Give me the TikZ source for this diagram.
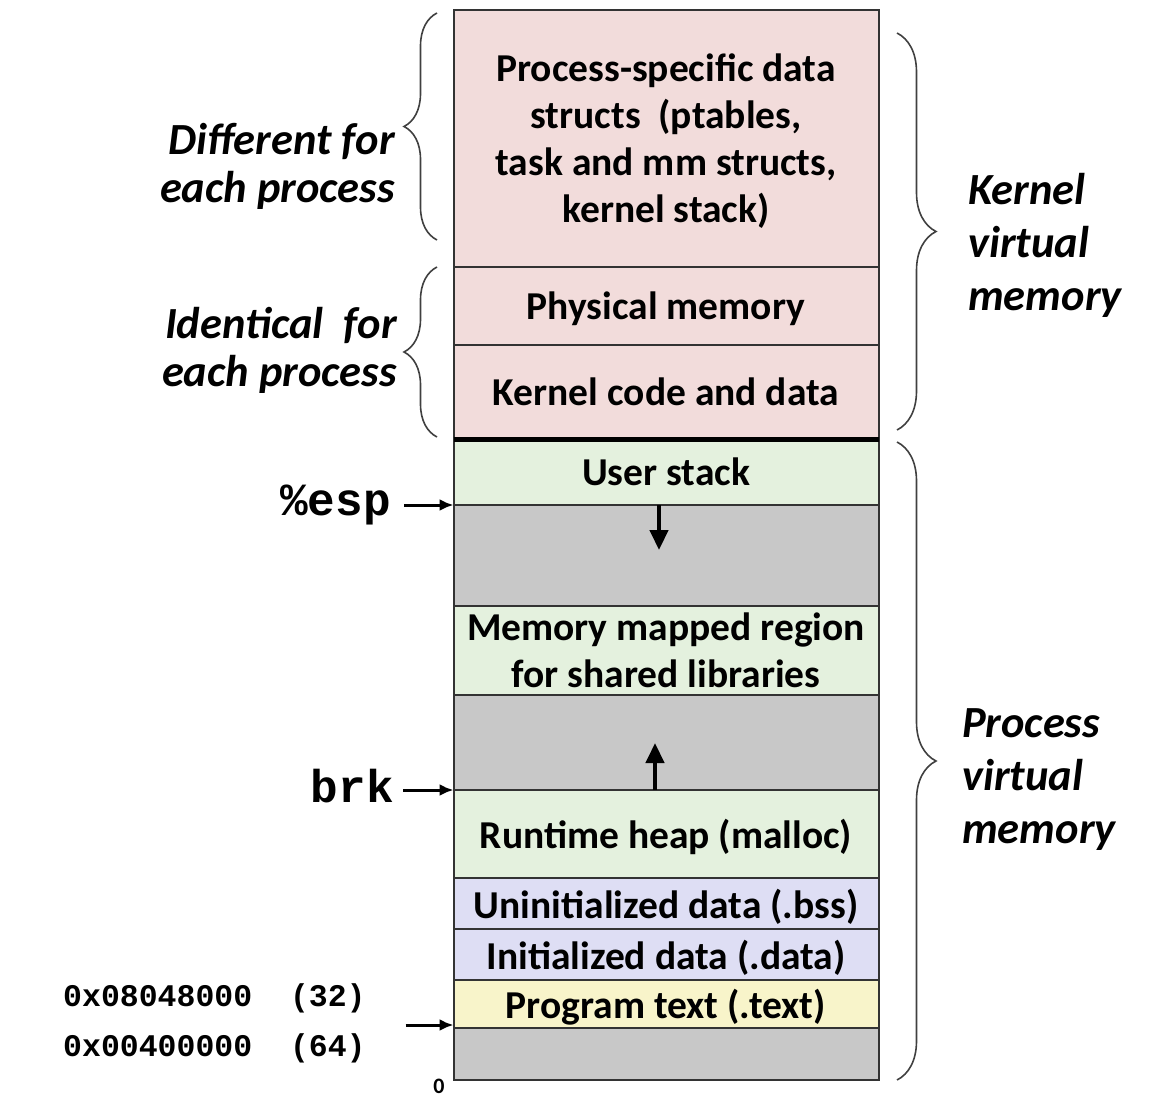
\documentclass[tikz,border=0pt]{standalone}
\usepackage{fontspec}
\setmainfont{Carlito}
\newfontfamily\codefont{Liberation Mono}
\usetikzlibrary{arrows.meta,decorations.pathreplacing}
\definecolor{kpink}{RGB}{242,220,219}
\definecolor{ugreen}{RGB}{228,241,222}
\definecolor{dlav}{RGB}{222,222,244}
\definecolor{tyellow}{RGB}{248,244,202}
\definecolor{fgray}{RGB}{200,200,200}

\begin{document}
\begin{tikzpicture}[x=1pt, y=-1pt,
    region/.style={draw=black!80,line width=2pt,minimum width=425pt,inner sep=0,outer sep=0,align=center,text depth=0pt,font=\fontsize{39.5}{47}\selectfont\bfseries},
    side/.style={inner sep=0,font=\fontsize{44.5}{#1}\selectfont\bfseries\itshape},
    reg/.style={inner sep=0,font=\codefont\fontsize{46}{46}\selectfont\bfseries},
    addr/.style={inner sep=0,anchor=west,font=\codefont\fontsize{31.5}{31.5}\selectfont\bfseries},
    ptr/.style={-{Latex[length=14pt,width=12pt]},line width=3pt},
    growth/.style={-{Triangle[length=20pt,width=18pt]},line width=4.5pt},
    span/.style={decorate,decoration={brace,amplitude=#1},line width=1.6pt,draw=black!75}]
    \useasboundingbox (0,0) rectangle (1176,1097);
    % kernel part
    \node at (666,10) [region,fill=kpink,anchor=north,minimum height=257pt] (kproc) {Process-specific data\\structs~~(ptables,\\task and mm structs,\\kernel stack)};
    \node at (kproc.south) [region,fill=kpink,anchor=north,minimum height=78pt] (physmem) {Physical memory};
    \node at (physmem.south) [region,fill=kpink,anchor=north,minimum height=94pt] (kcode) {Kernel code and data};
    % process part
    \node at (kcode.south) [region,fill=ugreen,anchor=north,minimum height=66pt] (ustack) {User stack};
    \node at (ustack.south) [region,fill=fgray,anchor=north,minimum height=101pt] (gap1) {};
    \node at (gap1.south) [region,fill=ugreen,anchor=north,minimum height=89pt] (mmap) {Memory mapped region\\for shared libraries};
    \node at (mmap.south) [region,fill=fgray,anchor=north,minimum height=95pt] (gap2) {};
    \node at (gap2.south) [region,fill=ugreen,anchor=north,minimum height=88pt] (heap) {Runtime heap (malloc)};
    \node at (heap.south) [region,fill=dlav,anchor=north,minimum height=51pt] (bss) {Uninitialized data (.bss)};
    \node at (bss.south) [region,fill=dlav,anchor=north,minimum height=51pt] (data) {Initialized data (.data)};
    \node at (data.south) [region,fill=tyellow,anchor=north,minimum height=48pt] (progtext) {Program text (.text)};
    \node at (progtext.south) [region,fill=fgray,anchor=north,minimum height=52pt] (gap3) {};
    \draw[line width=5pt] (kcode.south west) -- (kcode.south east);
    % growth arrows
    \coordinate (stackend) at (659,550);
    \coordinate (heapend) at (655,743);
    \draw[growth] (ustack.south -| stackend) -- (stackend);
    \draw[growth] (heap.north -| heapend) -- (heapend);
    % pointers
    \node at (391,505) [reg,anchor=east] (esp) {\%esp};
    \node at (394,786) [reg,anchor=east] (brk) {brk};
    \draw[ptr,shorten <=13pt] (esp.east) -- (ustack.south west);
    \draw[ptr,shorten <=9pt] (brk.east |- heap.north west) -- (heap.north west);
    \node at (63,998) [addr] (addr32) {0x08048000~~(32)};
    \node at (63,1048) [addr] (addr64) {0x00400000~~(64)};
    \coordinate (textbase) at ([xshift=-48pt,yshift=3pt]progtext.south west);
    \draw[ptr] (textbase) -- (textbase -| progtext.west);
    \node at (439,1086) [font=\fontsize{22}{22}\selectfont\bfseries] (zero) {0};
    % braces
    \draw[span=33pt] (437,240) -- (437,13);
    \draw[span=33pt] (437,437) -- (437,267);
    \draw[span=39pt] (897,33) -- (897,430);
    \draw[span=39pt] (897,442) -- (897,1080);
    \node at (395,166) [side=48,anchor=east,align=right] (diff) {Different for\\each process};
    \node at (397,350) [side=48,anchor=east,align=right] (ident) {Identical~~for\\each process};
    \node at (968,245) [side=53,anchor=west,align=left] (kvm) {Kernel\\virtual\\memory};
    \node at (962,780) [side=53,anchor=west,align=left] (pvm) {Process\\virtual\\memory};
\end{tikzpicture}
\end{document}
